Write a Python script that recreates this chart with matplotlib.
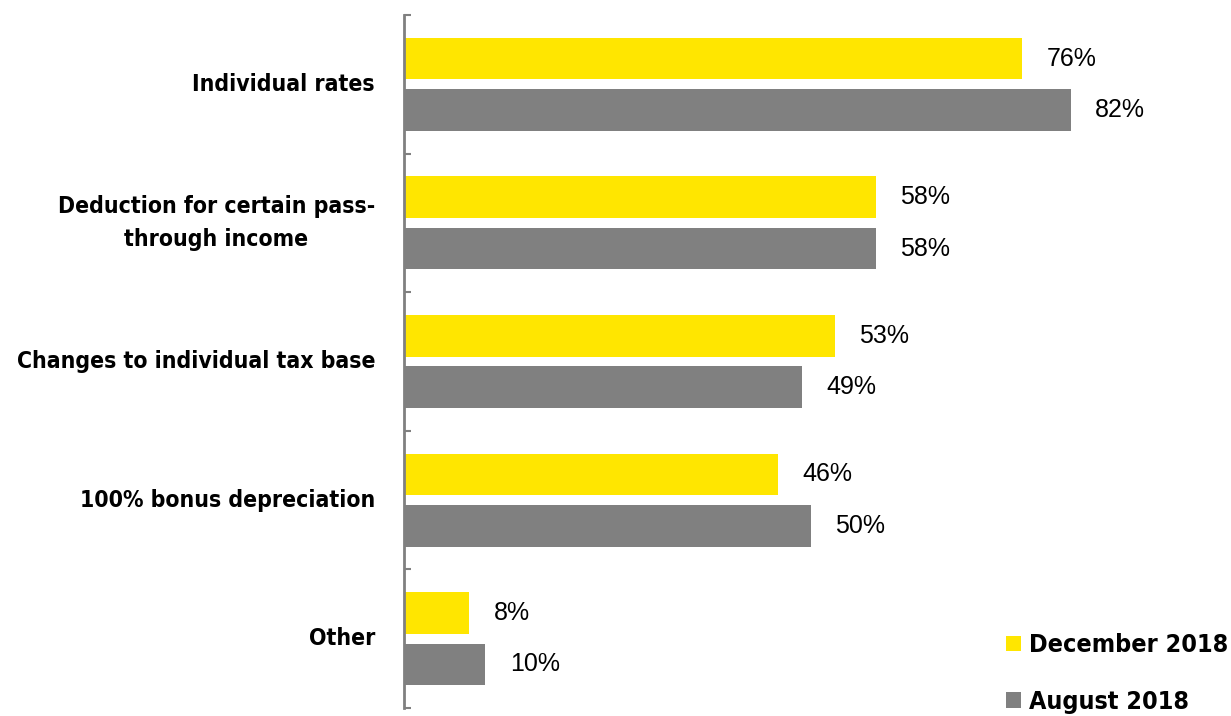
import numpy as np
import matplotlib.pyplot as plt

categories = ["Individual rates", "Deduction for certain pass-\nthrough income",
              "Changes to individual tax base", "100% bonus depreciation", "Other"]
dec_2018 = [76, 58, 53, 46, 8]
aug_2018 = [82, 58, 49, 50, 10]
series_names = ["December 2018", "August 2018"]

YELLOW = "#FFE600"
GRAY = "#808080"

plt.rcParams["font.family"] = ["DejaVu Sans"]
plt.rcParams["font.stretch"] = "condensed"
plt.rcParams["font.weight"] = "bold"

fig = plt.figure(figsize=(12.31, 7.16), dpi=100)
ax = fig.add_axes([404 / 1231, 8 / 716, 827 / 1231, 693 / 716])

y = np.arange(len(categories))
h = 0.30
off = 0.185
ax.barh(y - off, dec_2018, height=h, color=YELLOW, label=series_names[0])
ax.barh(y + off, aug_2018, height=h, color=GRAY, label=series_names[1])

# value labels use a plain Arial-like face
for yi, v in zip(y - off, dec_2018):
    ax.text(v + 3, yi, f"{v}%", va="center", ha="left", fontsize=18,
            family="Liberation Sans", weight="normal", stretch="normal")
for yi, v in zip(y + off, aug_2018):
    ax.text(v + 3, yi, f"{v}%", va="center", ha="left", fontsize=18,
            family="Liberation Sans", weight="normal", stretch="normal")

ax.set_xlim(0, 101.7)
ax.set_ylim(len(categories) - 0.5, -0.5)
ax.set_xticks([])
ax.set_yticks(np.arange(-0.5, len(categories)), minor=False)
ax.set_yticklabels([])
ax.tick_params(axis="y", direction="in", length=5, width=1.5, color=GRAY)

for i, c in enumerate(categories):
    ax.text(-0.035, i, c, transform=ax.get_yaxis_transform(), ha="right", va="center",
            fontsize=16.5, multialignment="center", linespacing=1.55)

for s in ["top", "right", "bottom"]:
    ax.spines[s].set_visible(False)
ax.spines["left"].set_color(GRAY)
ax.spines["left"].set_linewidth(2)

fig.legend(*ax.get_legend_handles_labels(), loc="lower right", bbox_to_anchor=(0.998, 0.003),
           frameon=False, fontsize=18, handlelength=0.6, handleheight=0.6, handletextpad=0.35,
           labelspacing=1.3, borderpad=0, borderaxespad=0)

fig.savefig("out.png", dpi=100)
